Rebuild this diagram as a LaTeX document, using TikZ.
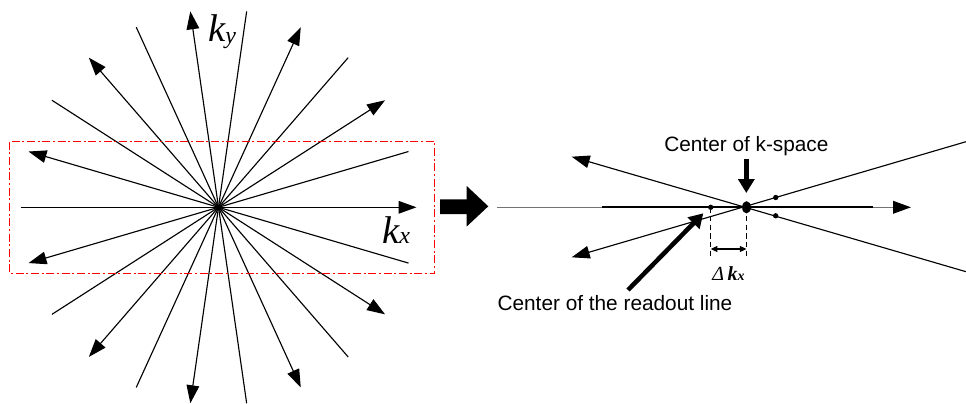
\documentclass[tikz,border=0pt]{standalone}
\usepackage{fontspec}
\setmainfont{Liberation Sans}
\newfontfamily\timesfont{Liberation Serif}
\usetikzlibrary{arrows.meta,calc}
\definecolor{boxred}{RGB}{255,0,0}

\begin{document}
\begin{tikzpicture}[x=0.75pt,y=-0.75pt,
  ray/.style={line width=0.85pt,-{Triangle[length=13.5pt,width=9.5pt]}},
  pointer/.style={line width=3.4pt,-{Triangle[length=10.5pt,width=12pt]}},
  guide/.style={line width=0.7pt,dash pattern=on 4pt off 2.5pt},
  sample/.style={fill=black},
  zoombox/.style={draw=boxred,line width=1.1pt,dash pattern=on 6pt off 2pt on 1.5pt off 2pt},
  caption/.style={inner sep=0pt,font=\fontsize{15.6}{15.6}\selectfont},
  axislabel/.style={inner sep=0pt,font=\timesfont\itshape\fontsize{29}{29}\selectfont}]

\useasboundingbox (0,0) rectangle (966,403);
\fill[white] (0,0) rectangle (966,403);

% ---------- radial trajectories ----------
\coordinate (O) at (218.5,207.3);
\foreach \i in {0,...,10}{
  \pgfmathsetmacro\ang{360*\i/11}
  \coordinate (tip\i) at ($(O)+(\ang:198)$);
  \coordinate (tail\i) at ($(O)+(\ang+180:198)$);
  \draw[ray] (tail\i) -- (tip\i);
}
\fill (O) circle (1.6pt);

\node[axislabel,anchor=base west] (ky) at (208,42)
  {k\raisebox{-1.5pt}{\fontsize{18}{18}\selectfont y}};
\node[axislabel,anchor=base west] (kx) at (382,243)
  {k\fontsize{18}{18}\selectfont x};

% region that is enlarged on the right
\draw[zoombox] (9.5,141.5) rectangle (434.5,273.5);

% ---------- block arrow ----------
\fill (440,199.3) -- (466.7,199.3) -- (466.7,186) -- (488.3,206.3)
  -- (466.7,226.5) -- (466.7,214) -- (440,214) -- cycle;

% ---------- enlarged centre ----------
\coordinate (C) at (746.5,207.3);
\coordinate (R) at (710.7,207.3);
\coordinate (hl) at (497,207.3);
\coordinate (hr) at (911,207.3);
\coordinate (ml) at (602,207.3);
\coordinate (mr) at (873,207.3);

\draw[line width=1.2pt,black!55,-{Triangle[length=13.5pt,width=9.5pt,color=black]}] (hl) -- (hr);
\draw[line width=1.3pt,black] (ml) -- (mr);

\coordinate (ur) at (966,141.7);
\coordinate (ll) at (571.7,257.3);
\coordinate (lr) at (966,271.7);
\coordinate (ul) at (571.7,156.7);
\draw[ray] (ur) -- (ll);
\draw[ray] (lr) -- (ul);

\fill[sample] (R) circle (2pt);
\fill[sample] (775.7,197.5) circle (2pt);
\fill[sample] (775.7,215.8) circle (2pt);
\fill[sample] (C) ellipse [x radius=3.3pt, y radius=4.6pt];

% offset between the two centres
\coordinate (Rd) at (710.7,256);
\coordinate (Cd) at (746.5,256);
\draw[guide] (R) -- (Rd);
\draw[guide] (C) -- (Cd);
\coordinate (Ra) at (710.7,249);
\coordinate (Ca) at (746.5,249);
\draw[line width=0.8pt,{Triangle[length=5pt,width=4.5pt]}-{Triangle[length=5pt,width=4.5pt]}] (Ra) -- (Ca);
\node[inner sep=0pt,anchor=base] (dk) at (728.5,280)
  {\timesfont\itshape\fontsize{15}{15}\selectfont Δ\,\bfseries k\fontsize{10.5}{10.5}\selectfont x};

% captions with their pointers
\node[caption,anchor=base] (ck) at (746.4,151) {Center of k-space};
\coordinate (ckt) at (746.3,159);
\coordinate (ckh) at (746.3,193);
\draw[pointer] (ckt) -- (ckh);

\node[caption,anchor=base west] (cr) at (497.3,310.5) {Center of the readout line};
\coordinate (crt) at (628,290);
\coordinate (crh) at (703.3,213.3);
\draw[pointer] (crt) -- (crh);

\end{tikzpicture}
\end{document}
